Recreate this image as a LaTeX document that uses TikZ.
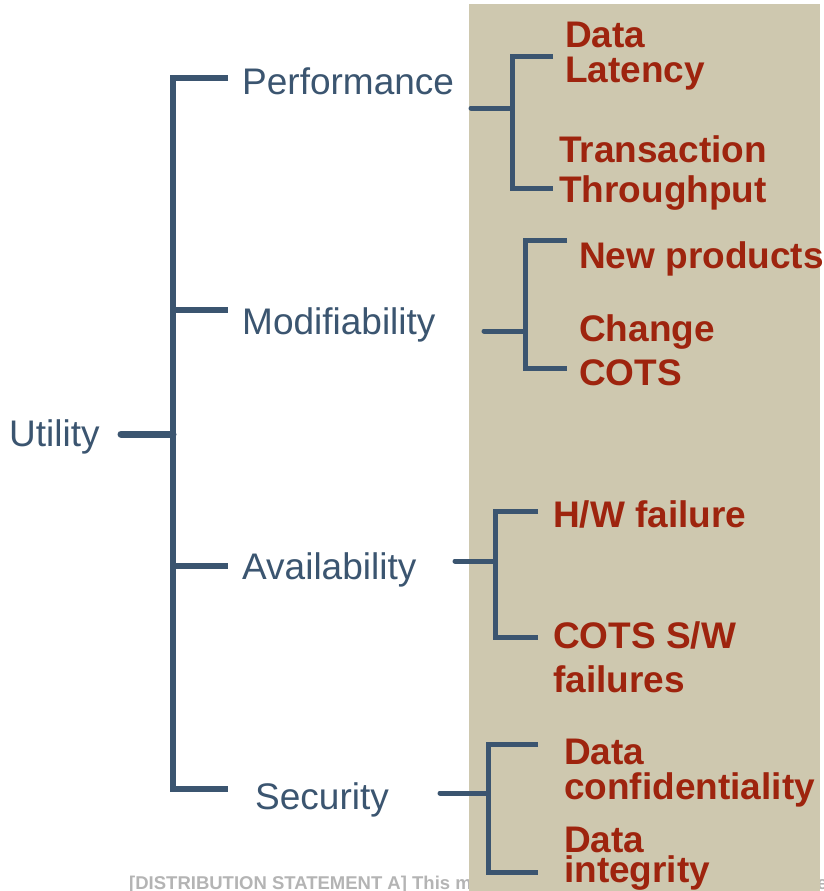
\documentclass[tikz,border=0pt]{standalone}
\usepackage{fontspec}
\setmainfont{Liberation Sans}
\definecolor{slate}{RGB}{59,85,112}
\definecolor{brick}{RGB}{158,36,14}
\definecolor{tanbg}{RGB}{206,200,175}
\definecolor{footgray}{RGB}{180,180,180}
\begin{document}
\begin{tikzpicture}[x=1pt,y=-1pt,
  cat/.style={anchor=base west, inner sep=0pt, text=slate, font=\fontsize{37}{40}\selectfont},
  leaf/.style={anchor=base west, inner sep=0pt, text=brick, font=\fontsize{37}{40}\selectfont\bfseries},
  trunk/.style={draw=slate, line width=6pt, line join=miter},
  twig/.style={draw=slate, line width=5pt, line join=miter},
  stub/.style={draw=slate, line width=5pt, line cap=round},
  footer/.style={anchor=base west, inner sep=0pt, text=footgray, font=\fontsize{18.5}{20}\selectfont\bfseries}]
\useasboundingbox (0,0) rectangle (824,891);
\clip (0,0) rectangle (824,891);
\fill[white] (0,0) rectangle (824,891);
% footer (partly hidden by panel)
\node[footer] (foot) at (129,889) {[DISTRIBUTION STATEMENT A] This material has been approved for public release and unlimited distribution.};
% panel
\fill[tanbg] (469,4) rectangle (820,895);
% category labels
\node[cat] (util) at (9,446) {Utility};
\node[cat] (perf) at (242,94) {Performance};
\node[cat] (modi) at (242,334) {Modifiability};
\node[cat] (avail) at (242,579) {Availability};
\node[cat] (secu) at (255,809) {Security};
% main tree
\coordinate (uS) at (121,434);
\coordinate (uJ) at (173,434);
\coordinate (tTop) at (173,78);
\coordinate (tBot) at (173,789);
\coordinate (bPerf) at (228,78);
\coordinate (bModi) at (228,310);
\coordinate (bAvail) at (228,566);
\coordinate (bSecu) at (228,789);
\coordinate (jModi) at (173,310);
\coordinate (jAvail) at (173,566);
\draw[trunk] (bPerf) -- (tTop) -- (tBot) -- (bSecu);
\draw[trunk] (jModi) -- (bModi);
\draw[trunk] (jAvail) -- (bAvail);
\draw[stub, line width=7pt] (uS) -- (uJ);
% performance leaves
\node[leaf] (dl1) at (565,48) {Data};
\node[leaf] (dl2) at (565,82) {Latency};
\node[leaf] (tt1) at (559,162) {Transaction};
\node[leaf] (tt2) at (559,202) {Throughput};
\coordinate (pS) at (471,108);
\coordinate (pJ) at (512,108);
\coordinate (pT) at (512,57);
\coordinate (pTe) at (553,57);
\coordinate (pB) at (512,188);
\coordinate (pBe) at (553,188);
\draw[stub] (pS) -- (pJ);
\draw[twig] (pTe) -- (pT) -- (pB) -- (pBe);
% modifiability leaves
\node[leaf] (np) at (579,268) {New products};
\node[leaf] (cc1) at (579,341) {Change};
\node[leaf] (cc2) at (579,385) {COTS};
\coordinate (mS) at (484,331);
\coordinate (mJ) at (525,331);
\coordinate (mT) at (525,240);
\coordinate (mTe) at (567,240);
\coordinate (mB) at (525,368);
\coordinate (mBe) at (567,368);
\draw[stub] (mS) -- (mJ);
\draw[twig] (mTe) -- (mT) -- (mB) -- (mBe);
% availability leaves
\node[leaf] (hw) at (553,527) {H/W failure};
\node[leaf] (sw1) at (553,648) {COTS S/W};
\node[leaf] (sw2) at (553,692) {failures};
\coordinate (aS) at (455,561);
\coordinate (aJ) at (495,561);
\coordinate (aT) at (495,511);
\coordinate (aTe) at (538,511);
\coordinate (aB) at (495,637);
\coordinate (aBe) at (538,637);
\draw[stub] (aS) -- (aJ);
\draw[twig] (aTe) -- (aT) -- (aB) -- (aBe);
% security leaves
\node[leaf] (dc1) at (564,764) {Data};
\node[leaf] (dc2) at (564,799) {confidentiality};
\node[leaf] (di1) at (564,852) {Data};
\node[leaf] (di2) at (564,882) {integrity};
\coordinate (sS) at (440,793);
\coordinate (sJ) at (488,793);
\coordinate (sT) at (488,744);
\coordinate (sTe) at (538,744);
\coordinate (sB) at (488,872);
\coordinate (sBe) at (538,872);
\draw[stub] (sS) -- (sJ);
\draw[twig] (sTe) -- (sT) -- (sB) -- (sBe);
\end{tikzpicture}
\end{document}
